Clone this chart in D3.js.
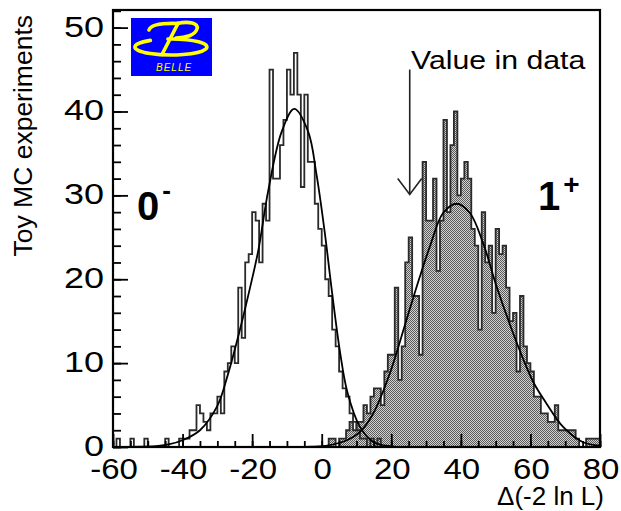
<!DOCTYPE html>
<html>
<head>
<meta charset="utf-8">
<script src="https://cdn.jsdelivr.net/npm/d3@7"></script>
<style>
  body { margin: 0; background: #fff; }
  svg { display: block; }
</style>
</head>
<body>
<svg id="chart" width="621" height="511"></svg>
<script>
// ---- Toy MC distributions of Δ(-2 ln L), 1-unit bins starting at -60 ----
const binStart = -60;
const binWidth = 1;

// 0⁻ hypothesis toys (open histogram), bins -60 … 79
const countsZeroMinus = [
  0, 1, 0, 0, 0, 1, 0, 0, 0, 1,      // -60 … -51
  0, 0, 0, 0, 0, 1, 0, 0, 0, 1,      // -50 … -41
  1, 1, 2, 2, 5, 4, 3, 2, 4, 4,      // -40 … -31
  6, 4, 9, 10, 12, 10, 19, 13, 22, 23, // -30 … -21
  28, 27, 22, 29, 27, 45, 32, 32, 36, 39, // -20 … -11
  45, 42, 47, 42, 31, 42, 34, 34, 29, 26, // -10 … -1
  24, 20, 18, 14, 12, 9, 7, 6, 4, 3, // 0 … 9
  2, 1, 1, 0, 1, 0, 1, 0, 0, 0,      // 10 … 19
  0, 0, 0, 0, 0, 0, 0, 0, 0, 0,      // 20 … 29
  0, 0, 0, 0, 0, 0, 0, 0, 0, 0,      // 30 … 39
  0, 0, 0, 0, 0, 0, 0, 0, 0, 0,      // 40 … 49
  0, 0, 0, 0, 0, 0, 0, 0, 0, 0,      // 50 … 59
  0, 0, 0, 0, 0, 0, 0, 0, 0, 0,      // 60 … 69
  0, 0, 0, 0, 0, 0, 0, 0, 0, 0       // 70 … 79
];

// 1⁺ hypothesis toys (shaded histogram), bins -60 … 79
const countsOnePlus = [
  0, 0, 0, 0, 0, 0, 0, 0, 0, 0,      // -60 … -51
  0, 0, 0, 0, 0, 0, 0, 0, 0, 0,      // -50 … -41
  0, 0, 0, 0, 0, 0, 0, 0, 0, 0,      // -40 … -31
  0, 0, 0, 0, 0, 0, 0, 0, 0, 0,      // -30 … -21
  0, 0, 0, 0, 0, 0, 0, 0, 0, 0,      // -20 … -11
  0, 0, 0, 0, 0, 0, 0, 0, 0, 0,      // -10 … -1
  0, 0, 1, 1, 0, 1, 1, 2, 3, 2,      // 0 … 9
  3, 3, 5, 4, 6, 7, 7, 5, 9, 11,     // 10 … 19
  11, 19, 8, 12, 22, 25, 18, 18, 11, 34, // 20 … 29
  27, 27, 32, 21, 27, 39, 28, 36, 40, 30, // 30 … 39
  32, 34, 32, 26, 24, 14, 28, 22, 24, 16, // 40 … 49
  26, 23, 24, 19, 15, 16, 9, 18, 12, 10, // 50 … 59
  9, 6, 6, 4, 4, 3, 3, 5, 2, 2,      // 60 … 69
  2, 2, 2, 1, 0, 0, 1, 1, 1, 1       // 70 … 79
];

// Fitted curves, [Δ(-2 ln L), toys per bin]
const fitZeroMinus = [
  [-60, 0], [-52, 0.03], [-47, 0.12], [-44, 0.3], [-40, 0.8], [-35, 2.0],
  [-30, 4.9], [-27, 8.6], [-23.5, 14], [-20.6, 19], [-18.2, 23.5],
  [-15.4, 30.5], [-11.5, 37.6], [-7.9, 40.3], [-3.9, 37.6], [-1.5, 32.5],
  [0.9, 25.5], [2.8, 19], [5.2, 11.5], [7.4, 6.5], [11, 2.4],
  [14.8, 0.6], [20, 0.08], [26, 0], [80, 0]
];
const fitOnePlus = [
  [-60, 0], [-10, 0], [-3, 0.03], [2, 0.2], [7.2, 0.8], [11, 1.8],
  [14.8, 4], [19.6, 8.8], [24.4, 15.2], [28.2, 20.3], [31.1, 23.9],
  [34.9, 27.9], [38.8, 29], [42.6, 27.9], [46.4, 24.3], [50.3, 19.1],
  [54.1, 14.6], [58, 10.4], [61, 7.6], [64.6, 5.2], [69.4, 2.4],
  [75, 0.6], [80, 0.15]
];

// Axis ticks
const xMajorTicks = [-60, -40, -20, 0, 20, 40, 60, 80];
const xMinorTicks = d3.range(-60, 81, 5);
const yMajorTicks = [0, 10, 20, 30, 40, 50];
const yMinorTicks = d3.range(0, 53, 2);

// Observed value in data and the arrow's vertical extent (in toy counts)
const dataValue = 25.3;
const arrowFrom = 45;
const arrowTo = 30.1;

// ---- Layout ----
const svg = d3.select("#chart");
const frame = { left: 113, right: 600, top: 10, bottom: 447 };
const x = d3.scaleLinear().domain([-60, 80]).range([frame.left, frame.right]);
const y = d3.scaleLinear().domain([0, 52.1]).range([frame.bottom, frame.top]);
const FONT = "'Liberation Sans', Arial, Helvetica, sans-serif";

svg.append("rect").attr("width", 621).attr("height", 511).attr("fill", "#fff");

const defs = svg.append("defs");
const pat = defs.append("pattern")
  .attr("id", "dots").attr("width", 2).attr("height", 2)
  .attr("patternUnits", "userSpaceOnUse");
pat.append("rect").attr("width", 2).attr("height", 2).attr("fill", "#d2d2d2");
pat.append("rect").attr("width", 1).attr("height", 1).attr("fill", "#5a5a5a");
pat.append("rect").attr("x", 1).attr("y", 1).attr("width", 1).attr("height", 1).attr("fill", "#5a5a5a");

defs.append("clipPath").attr("id", "plotClip")
  .append("rect")
  .attr("x", frame.left).attr("y", frame.top)
  .attr("width", frame.right - frame.left)
  .attr("height", frame.bottom - frame.top);

// Step outline of a histogram, closed onto the baseline at both ends
function stepPoints(counts) {
  const pts = [[binStart, 0]];
  counts.forEach((c, i) => {
    const x0 = binStart + i * binWidth;
    pts.push([x0, c], [x0 + binWidth, c]);
  });
  pts.push([binStart + counts.length * binWidth, 0]);
  return pts;
}
const stepLine = d3.line().x(d => x(d[0])).y(d => y(d[1]));

const plot = svg.append("g").attr("clip-path", "url(#plotClip)");

// 1⁺ toys: shaded histogram
plot.append("path")
  .attr("d", stepLine(stepPoints(countsOnePlus)) + "Z")
  .attr("fill", "url(#dots)")
  .attr("stroke", "#2a2a2a")
  .attr("stroke-width", 1.8)
  .attr("stroke-linejoin", "miter");

// 0⁻ toys: open histogram
plot.append("path")
  .attr("d", stepLine(stepPoints(countsZeroMinus)))
  .attr("fill", "none")
  .attr("stroke", "#2a2a2a")
  .attr("stroke-width", 1.8)
  .attr("stroke-linejoin", "miter");

// Fitted curves
const fitLine = d3.line().x(d => x(d[0])).y(d => y(d[1])).curve(d3.curveCatmullRom);
[fitZeroMinus, fitOnePlus].forEach(pts => {
  plot.append("path")
    .attr("d", fitLine(pts))
    .attr("fill", "none")
    .attr("stroke", "#000")
    .attr("stroke-width", 1.8);
});

// ---- Axes (ticks pointing into the frame) ----
function styleAxis(g) {
  g.select(".domain").remove();
  g.selectAll(".tick line").attr("stroke", "#000").attr("stroke-width", 1.8);
}

svg.append("g")
  .attr("transform", `translate(0,${frame.bottom})`)
  .call(d3.axisBottom(x).tickValues(xMinorTicks).tickSize(-6).tickFormat(""))
  .call(styleAxis);
svg.append("g")
  .attr("transform", `translate(0,${frame.bottom})`)
  .call(d3.axisBottom(x).tickValues(xMajorTicks).tickSize(-13).tickFormat(""))
  .call(styleAxis);

svg.append("g")
  .attr("transform", `translate(${frame.left},0)`)
  .call(d3.axisLeft(y).tickValues(yMinorTicks).tickSize(-8).tickFormat(""))
  .call(styleAxis);
svg.append("g")
  .attr("transform", `translate(${frame.left},0)`)
  .call(d3.axisLeft(y).tickValues(yMajorTicks).tickSize(-15).tickFormat(""))
  .call(styleAxis);

// Tick labels (slightly wide Helvetica-like digits)
svg.append("g").selectAll("text")
  .data(xMajorTicks)
  .join("text")
  .attr("transform", d => `translate(${x(d) + 1},479) scale(1.1,1)`)
  .attr("text-anchor", "middle")
  .attr("font-family", FONT).attr("font-size", 30)
  .text(d => String(d));

svg.append("g").selectAll("text")
  .data(yMajorTicks)
  .join("text")
  .attr("transform", d => `translate(104,${y(d) + 9}) scale(1.2,1)`)
  .attr("text-anchor", "end")
  .attr("font-family", FONT).attr("font-size", 30)
  .text(d => String(d));

// Frame
svg.append("rect")
  .attr("x", frame.left).attr("y", frame.top)
  .attr("width", frame.right - frame.left)
  .attr("height", frame.bottom - frame.top)
  .attr("fill", "none").attr("stroke", "#000").attr("stroke-width", 2.2);

// Axis titles
svg.append("text")
  .attr("transform", "translate(32,15) rotate(-90)")
  .attr("text-anchor", "end")
  .attr("font-family", FONT).attr("font-size", 26.5)
  .text("Toy MC experiments");

svg.append("text")
  .attr("x", 604).attr("y", 505)
  .attr("text-anchor", "end")
  .attr("font-family", FONT).attr("font-size", 26)
  .text("Δ(-2 ln L)");

// Value in data: label and arrow
const ax = x(dataValue);
const arrow = svg.append("g").attr("stroke", "#222").attr("stroke-width", 1.6).attr("fill", "none");
arrow.append("line").attr("x1", ax).attr("x2", ax).attr("y1", y(arrowFrom)).attr("y2", y(arrowTo));
arrow.append("path")
  .attr("d", `M${ax - 12},${y(arrowTo) - 16} L${ax},${y(arrowTo)} L${ax + 12},${y(arrowTo) - 16}`);

svg.append("text")
  .attr("transform", "translate(411,69) scale(1.21,1)")
  .attr("font-family", FONT).attr("font-size", 25)
  .text("Value in data");

// Hypothesis labels
const zm = svg.append("text").attr("x", 137).attr("y", 220)
  .attr("font-family", FONT).attr("font-weight", "bold").attr("font-size", 40);
zm.append("tspan").text("0");
zm.append("tspan").attr("font-size", 26).attr("dx", 3).attr("dy", -21).text("-");

const op = svg.append("text").attr("x", 538).attr("y", 210)
  .attr("font-family", FONT).attr("font-weight", "bold").attr("font-size", 40);
op.append("tspan").text("1");
op.append("tspan").attr("font-size", 28).attr("dx", 3).attr("dy", -16).text("+");

// Belle logo
const logo = svg.append("g").attr("transform", "translate(131,18)");
logo.append("rect").attr("width", 81).attr("height", 58).attr("fill", "#0000ff");
const ly = logo.append("g").attr("fill", "none").attr("stroke", "#ffff00")
  .attr("stroke-width", 3.6).attr("stroke-linecap", "round");
// lower sweep
ly.append("path").attr("d", "M19.4,22.4 A36,8 0 1 0 36.9,21");
// top stroke with hook
ly.append("path").attr("d", "M18,12 C20,6 32,5 47,5.5");
// stem
ly.append("path").attr("d", "M47,5.5 L31,36.5");
// upper bowl
ly.append("path").attr("d", "M46,5.5 C58,3 68,5 66,11 C64,17 55,20 45,20");
logo.append("text")
  .attr("x", 25).attr("y", 52.5)
  .attr("font-family", FONT).attr("font-style", "italic")
  .attr("font-size", 10).attr("letter-spacing", 1)
  .attr("fill", "#ffff00")
  .text("BELLE");
</script>
</body>
</html>
